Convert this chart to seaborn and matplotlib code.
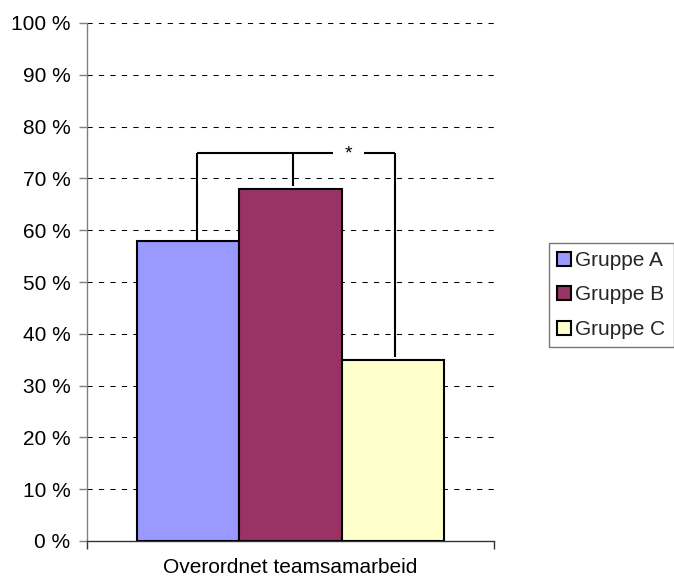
import matplotlib
matplotlib.use("Agg")
import matplotlib.pyplot as plt
import seaborn as sns
import pandas as pd

# Data
kategori = ["Overordnet teamsamarbeid"]
grupper = ["Gruppe A", "Gruppe B", "Gruppe C"]
andel = [58, 68, 35]
farger = ["#9999FF", "#993366", "#FFFFCC"]
y_ticks = list(range(0, 101, 10))
y_labels = [f"{v} %" for v in y_ticks]
signifikans = "*"
klamme_niva = 75

df = pd.DataFrame({
    "kategori": kategori * len(grupper),
    "gruppe": grupper,
    "andel": andel,
})

sns.set_theme(style="white")
plt.rcParams["font.family"] = ["Liberation Sans", "DejaVu Sans"]
FS = 15

fig = plt.figure(figsize=(6.74, 5.8), dpi=100)
ax = fig.add_axes([87 / 674, 39 / 580, 407 / 674, 518 / 580])

sns.barplot(data=df, x="kategori", y="andel", hue="gruppe", palette=farger,
            width=0.755, saturation=1, edgecolor="black", linewidth=1.5,
            ax=ax, zorder=3, legend=True)

ax.set_xlim(-0.5, 0.5)
ax.set_ylim(0, 100)
ax.set_yticks(y_ticks)
ax.set_yticklabels(y_labels, fontsize=FS, color="black")
ax.set_xticks([0])
ax.set_xticklabels(kategori, fontsize=FS, color="black")
ax.set_xticks([-0.5, 0.5], minor=True)
ax.tick_params(axis="x", which="major", length=0, pad=12)
ax.tick_params(axis="x", which="minor", length=6, width=1, color="#333333", direction="out", bottom=True)
ax.tick_params(axis="y", length=6, width=1, color="#808080", direction="out", left=True, pad=6)
ax.set_xlabel("")
ax.set_ylabel("")

# Dashed horizontal grid
for v in y_ticks[1:]:
    ax.axhline(v, color="black", lw=0.75, linestyle=(0, (5, 6)), zorder=1)

for side in ["top", "right"]:
    ax.spines[side].set_visible(False)
ax.spines["left"].set_color("#808080")
ax.spines["left"].set_linewidth(1)
ax.spines["bottom"].set_color("#333333")
ax.spines["bottom"].set_linewidth(1)

# Significance bracket over the three bars
bars = [p for p in ax.patches if p.get_height() > 0][:3]
centers = [b.get_x() + b.get_width() / 2 for b in bars]
tops = [b.get_height() for b in bars]
xl, xm, xr = centers[0] + 0.022, centers[1] + 0.006, centers[2] + 0.005
kw = dict(color="black", lw=1.5, zorder=4, solid_capstyle="butt")
ax.plot([xl, xl], [tops[0], klamme_niva], **kw)
ax.plot([xm, xm], [tops[1] + 0.6, klamme_niva], **kw)
ax.plot([xr, xr], [tops[2] + 0.6, klamme_niva], **kw)
gap_l, gap_r = 0.105, 0.18
ax.plot([xl, gap_l], [klamme_niva, klamme_niva], **kw)
ax.plot([gap_r, xr], [klamme_niva, klamme_niva], **kw)
ax.text((gap_l + gap_r) / 2, klamme_niva - 0.2, signifikans, ha="center", va="center",
        fontsize=14, color="black", zorder=5)

# Legend
leg = ax.get_legend()
handles = leg.legend_handles
leg.remove()
leg = fig.legend(handles, grupper, loc="center left", bbox_to_anchor=(549 / 674, 1 - 295 / 580),
                 frameon=True, fancybox=False, edgecolor="#555555", fontsize=FS,
                 handlelength=0.65, handleheight=0.65, handletextpad=0.2,
                 labelspacing=0.75, borderpad=0.4, borderaxespad=0)
leg.get_frame().set_linewidth(1)
for h in leg.legend_handles:
    h.set_edgecolor("black")
    h.set_linewidth(1.5)

fig.savefig("out.png", dpi=100, facecolor="white")
